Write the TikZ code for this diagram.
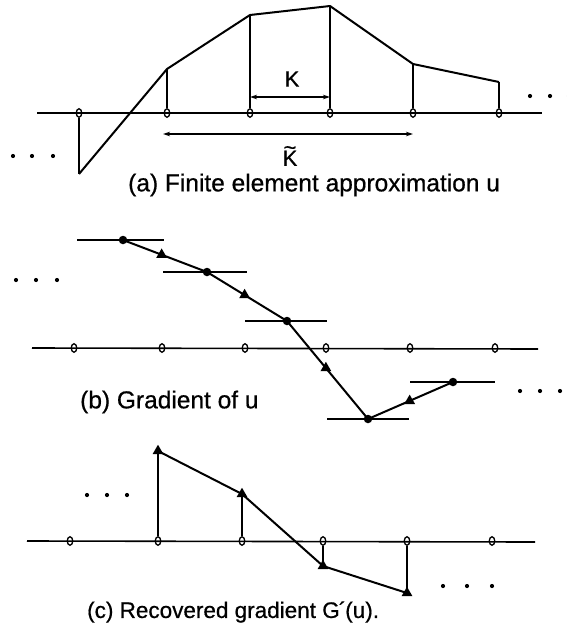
\documentclass[tikz,border=0pt]{standalone}
\usepackage{fontspec}
\setmainfont[FakeBold=0.6]{Liberation Sans}
\usetikzlibrary{shapes.geometric,arrows.meta}
\begin{document}
\begin{tikzpicture}[x=1pt,y=-1pt,
  axisline/.style={line width=1.6pt},
  curve/.style={line width=2pt,line join=round},
  stem/.style={line width=1.9pt},
  bar/.style={line width=1.8pt},
  nd/.style={ellipse,draw,line width=1.3pt,inner sep=0pt,minimum width=5.5pt,minimum height=8.5pt},
  gdot/.style={circle,fill,inner sep=0pt,minimum size=8.5pt},
  tri/.style={regular polygon,regular polygon sides=3,fill,inner sep=0pt,minimum size=12.5pt},
  captxt/.style={anchor=west,inner sep=0pt,font=\fontsize{24.5}{28}\selectfont},
  lbl/.style={inner sep=0pt,font=\fontsize{22}{26}\selectfont},
  dimarrow/.style={line width=1.4pt,{Stealth[length=7pt,width=4.5pt]}-{Stealth[length=7pt,width=4.5pt]}}
]
\useasboundingbox (0,0) rectangle (567,637);

% ---------- (a) ----------
\coordinate (aL) at (37,113);
\coordinate (aR) at (542,113);
\draw[axisline] (aL) -- (aR);
\foreach \n/\x/\v in {1/79/174,2/167/69,3/250/15,4/330/6,5/413/64,6/499/82}{
  \node[nd] (na\n) at (\x,113) {};
  \coordinate (ua\n) at (\x,\v);
  \draw[stem] (na\n) -- (ua\n);
}
\draw[curve] (ua1) -- (ua2) -- (ua3) -- (ua4) -- (ua5) -- (ua6);
\coordinate (kL) at (250,97);
\coordinate (kR) at (330,97);
\draw[dimarrow] (kL) -- (kR);
\node[lbl] (klab) at (292,79) {K};
\coordinate (ktL) at (163,134);
\coordinate (ktR) at (413,134);
\draw[dimarrow] (ktL) -- (ktR);
\node[lbl,align=center] (ktlab) at (290,156) {\textasciitilde\\[-15pt]K};
\foreach \x in {13,32,53} \fill (\x,156) circle (2.1);
\foreach \x in {530,550,569} \fill (\x,96) circle (2.1);
\node[captxt] (capa) at (128,185) {(a) Finite element approximation u};

% ---------- (b) ----------
\coordinate (bL) at (32,348);
\coordinate (bR) at (538,349);
\draw[axisline] (bL) -- (bR);
\foreach \n/\x in {1/74,2/162,3/245,4/326,5/410,6/495}{
  \node[nd] (nb\n) at (\x,348) {};
}
\draw[bar] (77,240) -- (164,240);
\draw[bar] (163,272) -- (247,272);
\draw[bar] (245,321) -- (327,321);
\draw[bar] (327,419) -- (409,419);
\draw[bar] (410,382) -- (495,382);
\node[gdot] (g1) at (123,240) {};
\node[gdot] (g2) at (207,272) {};
\node[gdot] (g3) at (287,321) {};
\node[gdot] (g4) at (368,419) {};
\node[gdot] (g5) at (453,382) {};
\draw[curve] (g1.center) -- (g2.center) -- (g3.center) -- (g4.center) -- (g5.center);
\path (g1.center) -- node[tri,pos=0.46] (t1) {} (g2.center);
\path (g2.center) -- node[tri,pos=0.47] (t2) {} (g3.center);
\path (g3.center) -- node[tri,pos=0.48] (t3) {} (g4.center);
\path (g4.center) -- node[tri,pos=0.49] (t4) {} (g5.center);
\foreach \x in {16,36,57} \fill (\x,280) circle (2.1);
\foreach \x in {520,540,560} \fill (\x,391) circle (2.1);
\node[captxt] (capb) at (80,402) {(b) Gradient of u};

% ---------- (c) ----------
\coordinate (cL) at (27,541);
\coordinate (cR) at (535,542);
\draw[axisline] (cL) -- (cR);
\foreach \n/\x in {1/70,2/158,3/242,4/323,5/407,6/492}{
  \node[nd] (nc\n) at (\x,541) {};
}
\node[tri] (r2) at (158,451) {};
\node[tri] (r3) at (242,494) {};
\node[tri] (r4) at (323,566) {};
\node[tri] (r5) at (407,593) {};
\foreach \n in {2,3,4,5} \draw[stem] (nc\n) -- (r\n.center);
\draw[curve] (r2.center) -- (r3.center) -- (r4.center) -- (r5.center);
\foreach \x in {87,107,127} \fill (\x,495) circle (2.1);
\foreach \x in {443,467,492} \fill (\x,586) circle (2.1);
\node[captxt,font=\fontsize{22.5}{26}\selectfont] (capc) at (87,612) {(c) Recovered gradient G\kern-1pt´\kern-1pt(u).};
\end{tikzpicture}
\end{document}
